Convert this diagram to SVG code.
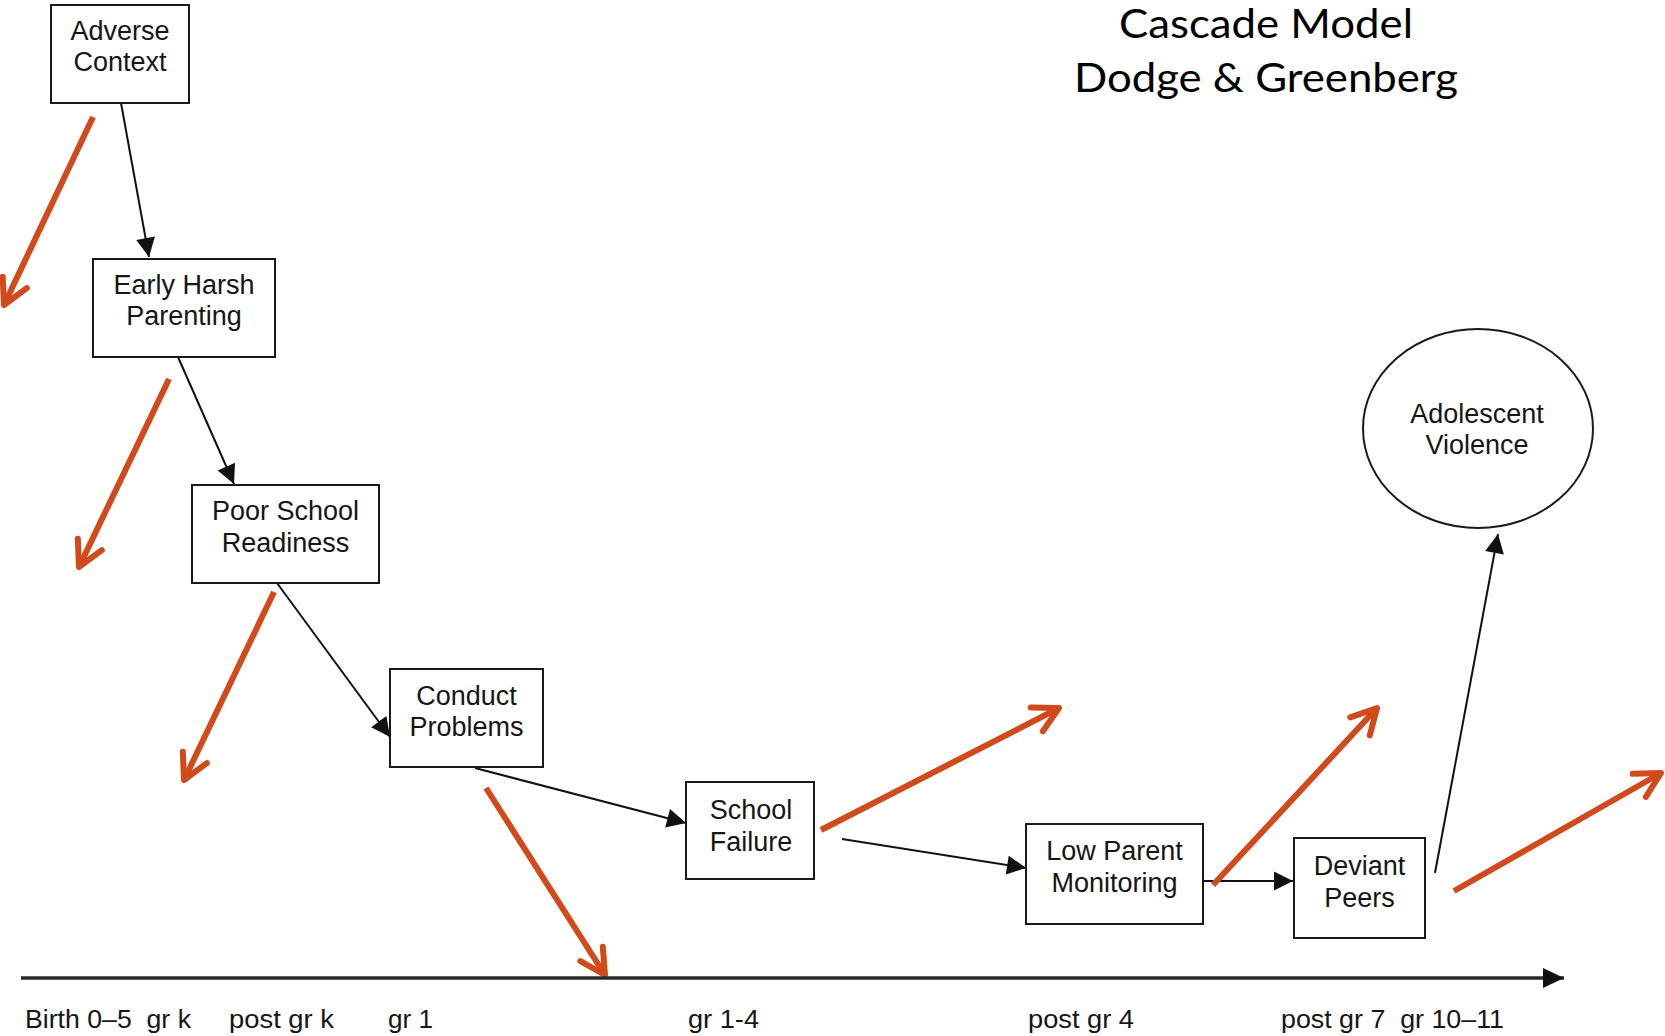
<svg xmlns="http://www.w3.org/2000/svg" width="1665" height="1036" viewBox="0 0 1665 1036">
<style>
.box{fill:#fff;stroke:#1a1a1a;stroke-width:2}
.nt{font-family:"Liberation Sans",Arial,sans-serif;font-size:27px;fill:#151515;text-anchor:middle}
.con{stroke:#111;stroke-width:2;fill:none;marker-end:url(#ah)}
.red{stroke:#D14A1B;stroke-width:6;fill:none;marker-end:url(#rh)}
.ax{font-family:"Liberation Sans",Arial,sans-serif;font-size:26px;fill:#151515;white-space:pre}
.title{font-family:Lato,"Open Sans",sans-serif;font-size:41px;fill:#000;text-anchor:middle}
</style>
<defs>
<marker id="ah" markerUnits="userSpaceOnUse" viewBox="-21 -11 22 22" markerWidth="22" markerHeight="22" refX="0" refY="0" orient="auto">
<path d="M0,0 L-19,-9.5 L-19,9.5 Z" fill="#111"/>
</marker>
<marker id="rh" markerUnits="userSpaceOnUse" viewBox="-32 -18 36 36" markerWidth="36" markerHeight="36" refX="0" refY="0" orient="auto">
<path d="M-25,-13.3 L0,0 L-25,13.3" fill="none" stroke="#D14A1B" stroke-width="6" stroke-linecap="round" stroke-linejoin="round"/>
</marker>
<marker id="axh" markerUnits="userSpaceOnUse" viewBox="-22 -12 24 24" markerWidth="24" markerHeight="24" refX="0" refY="0" orient="auto">
<path d="M0,0 L-21,-10 L-21,10 Z" fill="#111"/>
</marker>
</defs>
<rect width="1665" height="1036" fill="#fff"/>

<g id="title">
<text class="title" x="1266" y="38" textLength="294" lengthAdjust="spacingAndGlyphs">Cascade Model</text>
<text class="title" x="1266" y="92" textLength="384" lengthAdjust="spacingAndGlyphs">Dodge &amp; Greenberg</text>
</g>

<g id="connectors">
<line class="con" x1="121" y1="103" x2="149" y2="257"/>
<line class="con" x1="178" y1="357" x2="234" y2="484"/>
<line class="con" x1="277" y1="583" x2="390" y2="737"/>
<line class="con" x1="475" y1="768" x2="686" y2="823"/>
<line class="con" x1="842" y1="839" x2="1026" y2="868"/>
<line class="con" x1="1182" y1="881" x2="1293" y2="881"/>
<line class="con" x1="1435" y1="873" x2="1498" y2="534"/>
</g>

<g id="node-adverse-context">
<rect class="box" x="51" y="5" width="138" height="98"/>
<text class="nt" x="120" y="40">Adverse</text>
<text class="nt" x="120" y="71">Context</text>
</g>
<g id="node-early-harsh-parenting">
<rect class="box" x="93" y="259" width="182" height="98"/>
<text class="nt" x="184" y="294">Early Harsh</text>
<text class="nt" x="184" y="325">Parenting</text>
</g>
<g id="node-poor-school-readiness">
<rect class="box" x="192" y="485" width="187" height="98"/>
<text class="nt" x="285.5" y="520">Poor School</text>
<text class="nt" x="285.5" y="552">Readiness</text>
</g>
<g id="node-conduct-problems">
<rect class="box" x="390" y="669" width="153" height="98"/>
<text class="nt" x="466.5" y="705">Conduct</text>
<text class="nt" x="466.5" y="736">Problems</text>
</g>
<g id="node-school-failure">
<rect class="box" x="686" y="782" width="128" height="97"/>
<text class="nt" x="751" y="819">School</text>
<text class="nt" x="751" y="851">Failure</text>
</g>
<g id="node-low-parent-monitoring">
<rect class="box" x="1026" y="824" width="177" height="100"/>
<text class="nt" x="1114.5" y="860">Low Parent</text>
<text class="nt" x="1114.5" y="892">Monitoring</text>
</g>
<g id="node-deviant-peers">
<rect class="box" x="1294" y="838" width="131" height="100"/>
<text class="nt" x="1359.5" y="875">Deviant</text>
<text class="nt" x="1359.5" y="907">Peers</text>
</g>
<g id="node-adolescent-violence">
<ellipse class="box" cx="1478" cy="428.5" rx="115" ry="99.5"/>
<text class="nt" x="1477" y="423">Adolescent</text>
<text class="nt" x="1477" y="454">Violence</text>
</g>

<g id="red-arrows">
<line class="red" x1="93" y1="117" x2="4" y2="305"/>
<line class="red" x1="169" y1="379" x2="79" y2="567"/>
<line class="red" x1="274" y1="592" x2="184" y2="780"/>
<line class="red" x1="486" y1="788" x2="605" y2="975"/>
<line class="red" x1="821" y1="830" x2="1059" y2="708"/>
<line class="red" x1="1213" y1="885" x2="1377" y2="708"/>
<line class="red" x1="1454" y1="891" x2="1661" y2="773"/>
</g>

<g id="axis">
<line x1="21" y1="978" x2="1564" y2="978" stroke="#2a2a2a" stroke-width="3.5" marker-end="url(#axh)"/>
<text class="ax" x="25" y="1028" textLength="166" lengthAdjust="spacingAndGlyphs">Birth 0–5  gr k</text>
<text class="ax" x="229" y="1028" textLength="105" lengthAdjust="spacingAndGlyphs">post gr k</text>
<text class="ax" x="388" y="1028" textLength="45" lengthAdjust="spacingAndGlyphs">gr 1</text>
<text class="ax" x="688" y="1028" textLength="71" lengthAdjust="spacingAndGlyphs">gr 1-4</text>
<text class="ax" x="1028" y="1028" textLength="106" lengthAdjust="spacingAndGlyphs">post gr 4</text>
<text class="ax" x="1281" y="1028" textLength="223" lengthAdjust="spacingAndGlyphs">post gr 7  gr 10–11</text>
</g>
</svg>
